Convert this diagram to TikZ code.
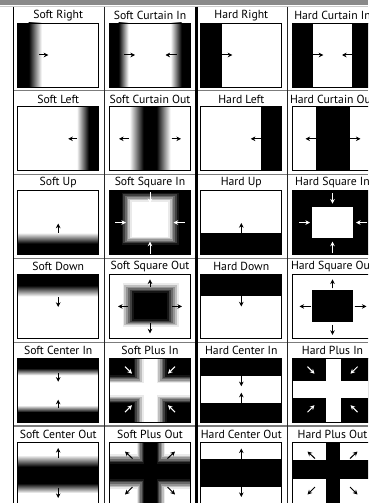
\documentclass[tikz,border=0pt]{standalone}
\usepackage{fontspec}
\setmainfont{PT Sans}
\usetikzlibrary{arrows.meta}
\definecolor{barg}{HTML}{8A8A8A}
\definecolor{rowg}{HTML}{7C7C7C}
\tikzset{
  ttl/.style={font=\fontsize{11.7}{13}\selectfont, inner sep=0pt, anchor=center},
  frame/.style={draw=black, line width=0.8pt},
  arr/.style={line width=1pt, -{Stealth[length=4.6pt,width=4.6pt]}},
  warr/.style={arr, draw=white, fill=white},
  barr/.style={arr, draw=black, fill=black},
  hline/.style={draw=rowg, line width=1.3pt},
}
\begin{document}
\begin{tikzpicture}[x=1pt,y=-1pt]
\clip (0,0) rectangle (368,503);
\fill[white] (0,0) rectangle (368,503);
\fill[barg] (0,0) rectangle (368,5.5);
\draw[draw=gray!40, line width=0.8pt] (0,6.2) -- (368,6.2);

% ---------- titles ----------
\node[ttl] (t11) at (58.2,15.3) {Soft Right};
\node[ttl] (t12) at (150,15.3) {Soft Curtain In};
\node[ttl] (t13) at (241.3,15.3) {Hard Right};
\node[ttl] (t14) at (332.5,15.3) {Hard Curtain In};
\node[ttl] (t21) at (58.2,99.1) {Soft Left};
\node[ttl] (t22) at (150,99.1) {Soft Curtain Out};
\node[ttl] (t23) at (241.3,99.1) {Hard Left};
\node[ttl] (t24) at (332.5,99.1) {Hard Curtain Out};
\node[ttl] (t31) at (58.2,182.9) {Soft Up};
\node[ttl] (t32) at (150,182.9) {Soft Square In};
\node[ttl] (t33) at (241.3,182.9) {Hard Up};
\node[ttl] (t34) at (332.5,182.9) {Hard Square In};
\node[ttl] (t41) at (58.2,266.7) {Soft Down};
\node[ttl] (t42) at (150,266.7) {Soft Square Out};
\node[ttl] (t43) at (241.3,266.7) {Hard Down};
\node[ttl] (t44) at (332.5,266.7) {Hard Square Out};
\node[ttl] (t51) at (58.2,350.5) {Soft Center In};
\node[ttl] (t52) at (150,350.5) {Soft Plus In};
\node[ttl] (t53) at (241.3,350.5) {Hard Center In};
\node[ttl] (t54) at (332.5,350.5) {Hard Plus In};
\node[ttl] (t61) at (58.2,434.3) {Soft Center Out};
\node[ttl] (t62) at (150,434.3) {Soft Plus Out};
\node[ttl] (t63) at (241.3,434.3) {Hard Center Out};
\node[ttl] (t64) at (332.5,434.3) {Hard Plus Out};

% ---------- row 1 ----------
\begin{scope}[shift={(17.7,23)}]
  \fill[black] (0,0) rectangle (11,64);
  \shade[left color=black,right color=white] (11,0) rectangle (24,64);
  \draw[barr] (21.6,32) -- (30.6,32);
  \draw[frame] (0,0) rectangle (81,64);
\end{scope}
\begin{scope}[shift={(109.5,23)}]
  \fill[black] (0,0) rectangle (9,64);
  \shade[left color=black,right color=white] (9,0) rectangle (19,64);
  \shade[left color=white,right color=black] (61,0) rectangle (72,64);
  \fill[black] (72,0) rectangle (81,64);
  \draw[barr] (14.5,32) -- (25.5,32);
  \draw[barr] (67,32) -- (56,32);
  \draw[frame] (0,0) rectangle (81,64);
\end{scope}
\begin{scope}[shift={(200.8,23)}]
  \fill[black] (0,0) rectangle (21,64);
  \draw[barr] (21,32) -- (31.5,32);
  \draw[frame] (0,0) rectangle (81,64);
\end{scope}
\begin{scope}[shift={(292,23)}]
  \fill[black] (0,0) rectangle (21,64);
  \fill[black] (60,0) rectangle (81,64);
  \draw[barr] (21,32) -- (31.3,32);
  \draw[barr] (60,32) -- (50,32);
  \draw[frame] (0,0) rectangle (81,64);
\end{scope}

% ---------- row 2 ----------
\begin{scope}[shift={(17.7,106.8)}]
  \shade[left color=white,right color=black] (59,0) rectangle (71,64);
  \fill[black] (71,0) rectangle (81,64);
  \draw[barr] (59.5,32) -- (50.5,32);
  \draw[frame] (0,0) rectangle (81,64);
\end{scope}
\begin{scope}[shift={(109.5,106.8)}]
  \shade[left color=white,right color=black] (20,0) rectangle (34,64);
  \fill[black] (34,0) rectangle (47,64);
  \shade[left color=black,right color=white] (47,0) rectangle (61,64);
  \draw[barr] (19,32) -- (9.5,32);
  \draw[barr] (62,32) -- (71.5,32);
  \draw[frame] (0,0) rectangle (81,64);
\end{scope}
\begin{scope}[shift={(200.8,106.8)}]
  \fill[black] (60,0) rectangle (81,64);
  \draw[barr] (60,32) -- (50,32);
  \draw[frame] (0,0) rectangle (81,64);
\end{scope}
\begin{scope}[shift={(292,106.8)}]
  \fill[black] (24,0) rectangle (58,64);
  \draw[barr] (24,32) -- (13.5,32);
  \draw[barr] (58,32) -- (68.5,32);
  \draw[frame] (0,0) rectangle (81,64);
\end{scope}

% ---------- row 3 ----------
\begin{scope}[shift={(17.7,190.6)}]
  \shade[top color=white,bottom color=black] (0,42) rectangle (81,53);
  \fill[black] (0,53) rectangle (81,64);
  \draw[barr] (40.5,42) -- (40.5,33);
  \draw[frame] (0,0) rectangle (81,64);
\end{scope}
\begin{scope}[shift={(109.5,190.6)}]
  \fill[black] (0,0) rectangle (81,64);
  \foreach \i in {0,...,5} {
    \pgfmathsetmacro\t{\i/6}
    \pgfmathsetmacro\g{100*(\i+0.5)/6}
    \fill[white!\g!black] ({12+10*\t},{2+9*\t}) rectangle ({69-10.5*\t},{54-8*\t});
  }
  \fill[white] (22,11) rectangle (58.5,46);
  \draw[warr] (40.5,1.5) -- (40.5,12.5);
  \draw[warr] (5.5,32) -- (16.5,32);
  \draw[warr] (75,32) -- (64,32);
  \draw[warr] (40.5,63) -- (40.5,51);
  \draw[frame] (0,0) rectangle (81,64);
\end{scope}
\begin{scope}[shift={(200.8,190.6)}]
  \fill[black] (0,42) rectangle (81,64);
  \draw[barr] (40.5,42) -- (40.5,32.5);
  \draw[frame] (0,0) rectangle (81,64);
\end{scope}
\begin{scope}[shift={(292,190.6)}]
  \fill[black] (0,0) rectangle (81,64);
  \fill[white] (20,16.7) rectangle (61,47.7);
  \draw[warr] (40.5,2.5) -- (40.5,13);
  \draw[warr] (7,32) -- (18,32);
  \draw[warr] (75,32) -- (64,32);
  \draw[warr] (40.5,62.5) -- (40.5,51);
  \draw[frame] (0,0) rectangle (81,64);
\end{scope}

% ---------- row 4 ----------
\begin{scope}[shift={(17.7,274.4)}]
  \fill[black] (0,0) rectangle (81,11);
  \shade[top color=black,bottom color=white] (0,11) rectangle (81,22);
  \draw[barr] (40.5,23) -- (40.5,32.5);
  \draw[frame] (0,0) rectangle (81,64);
\end{scope}
\begin{scope}[shift={(109.5,274.4)}]
  \foreach \i in {0,...,5} {
    \pgfmathsetmacro\t{\i/6}
    \pgfmathsetmacro\g{100-100*(\i+0.5)/6}
    \fill[white!\g!black] ({13+11.5*\t},{9+9.3*\t}) rectangle ({69-11.5*\t},{52.3-7.3*\t});
  }
  \fill[black] (24.5,18.3) rectangle (57.5,45);
  \draw[barr] (40.5,12.5) -- (40.5,5);
  \draw[barr] (18.5,32) -- (8.5,32);
  \draw[barr] (62.5,32) -- (72.5,32);
  \draw[barr] (40.5,49) -- (40.5,59);
  \draw[frame] (0,0) rectangle (81,64);
\end{scope}
\begin{scope}[shift={(200.8,274.4)}]
  \fill[black] (0,0) rectangle (81,22);
  \draw[barr] (40.5,22) -- (40.5,32);
  \draw[frame] (0,0) rectangle (81,64);
\end{scope}
\begin{scope}[shift={(292,274.4)}]
  \fill[black] (20,15.6) rectangle (61,47.3);
  \draw[barr] (40.5,14) -- (40.5,5);
  \draw[barr] (19,32) -- (7.5,32);
  \draw[barr] (62.5,32) -- (74.5,32);
  \draw[barr] (40.5,50.5) -- (40.5,60.5);
  \draw[frame] (0,0) rectangle (81,64);
\end{scope}

% ---------- row 5 ----------
\begin{scope}[shift={(17.7,358.2)}]
  \fill[black] (0,0) rectangle (81,10);
  \shade[top color=black,bottom color=white] (0,10) rectangle (81,17);
  \shade[top color=white,bottom color=black] (0,47) rectangle (81,54);
  \fill[black] (0,54) rectangle (81,64);
  \draw[barr] (40.5,15) -- (40.5,23.5);
  \draw[barr] (40.5,50) -- (40.5,41.5);
  \draw[frame] (0,0) rectangle (81,64);
\end{scope}
\begin{scope}[shift={(109.5,358.2)}]
  \fill[black] (0,0) rectangle (81,64);
  \foreach \i in {0,...,5} {
    \pgfmathsetmacro\t{\i/6}
    \pgfmathsetmacro\g{100*(\i+0.5)/6}
    \fill[white!\g!black] ({24+10*\t},0) rectangle ({57-10*\t},64);
    \fill[white!\g!black] (0,{17+8*\t}) rectangle (81,{45-8*\t});
  }
  \fill[white] (34,0) rectangle (47,64);
  \fill[white] (0,25) rectangle (81,37);
  \draw[warr] (15.5,8.5) -- (22.5,15.5);
  \draw[warr] (65.5,8.5) -- (58.5,15.5);
  \draw[warr] (15.5,54) -- (22.5,47);
  \draw[warr] (65.5,54) -- (58.5,47);
  \draw[frame] (0,0) rectangle (81,64);
\end{scope}
\begin{scope}[shift={(200.8,358.2)}]
  \fill[black] (0,0) rectangle (81,17.5);
  \fill[black] (0,45) rectangle (81,64);
  \draw[barr] (40.5,17.5) -- (40.5,28);
  \draw[barr] (40.5,45) -- (40.5,34.5);
  \draw[frame] (0,0) rectangle (81,64);
\end{scope}
\begin{scope}[shift={(292,358.2)}]
  \fill[black] (0,0) rectangle (81,64);
  \fill[white] (33.7,0) rectangle (48.7,64);
  \fill[white] (0,23) rectangle (81,39.5);
  \draw[warr] (15.5,8.5) -- (22.5,15.5);
  \draw[warr] (65.5,8.5) -- (58.5,15.5);
  \draw[warr] (15.5,54) -- (22.5,47);
  \draw[warr] (65.5,54) -- (58.5,47);
  \draw[frame] (0,0) rectangle (81,64);
\end{scope}

% ---------- row 6 ----------
\begin{scope}[shift={(17.7,442)}]
  \shade[top color=white,bottom color=black] (0,13) rectangle (81,24.7);
  \fill[black] (0,24.7) rectangle (81,41.3);
  \shade[top color=black,bottom color=white] (0,41.3) rectangle (81,51);
  \draw[barr] (40.5,16) -- (40.5,6);
  \draw[barr] (40.5,46) -- (40.5,56);
  \draw[frame] (0,0) rectangle (81,64);
\end{scope}
\begin{scope}[shift={(109.5,442)}]
  \foreach \i in {0,...,5} {
    \pgfmathsetmacro\t{\i/6}
    \pgfmathsetmacro\g{100-100*(\i+0.5)/6}
    \fill[white!\g!black] ({27+7.5*\t},0) rectangle ({55.5-8.5*\t},64);
    \fill[white!\g!black] (0,{12+10*\t}) rectangle (81,{47-10*\t});
  }
  \fill[black] (34.5,0) rectangle (47,64);
  \fill[black] (0,22) rectangle (81,37);
  \draw[barr] (23,16.5) -- (15.5,9.5);
  \draw[barr] (58,16.5) -- (65.5,9.5);
  \draw[barr] (23,45) -- (15.5,52.5);
  \draw[barr] (58,45) -- (65.5,52.5);
  \draw[frame] (0,0) rectangle (81,64);
\end{scope}
\begin{scope}[shift={(200.8,442)}]
  \fill[black] (0,17) rectangle (81,44.7);
  \draw[barr] (40.5,17) -- (40.5,6.5);
  \draw[barr] (40.5,44.7) -- (40.5,55);
  \draw[frame] (0,0) rectangle (81,64);
\end{scope}
\begin{scope}[shift={(292,442)}]
  \fill[black] (33.7,0) rectangle (48,64);
  \fill[black] (0,18) rectangle (81,37);
  \draw[barr] (23,16.5) -- (15.5,9.5);
  \draw[barr] (58,16.5) -- (65.5,9.5);
  \draw[barr] (23,45) -- (15.5,52.5);
  \draw[barr] (58,45) -- (65.5,52.5);
  \draw[frame] (0,0) rectangle (81,64);
\end{scope}

% ---------- grid ----------
\foreach \y in {90.8,174.6,258.4,342.2,426} {
  \draw[hline] (13.5,\y) -- (368,\y);
}
\draw[black, line width=1.2pt] (13.5,6.6) -- (13.5,503);
\draw[black!85, line width=1pt] (104.3,6.6) -- (104.3,503);
\draw[black, line width=2.8pt] (196.3,6.6) -- (196.3,503);
\draw[black!85, line width=1pt] (287.2,6.6) -- (287.2,503);
\end{tikzpicture}
\end{document}
